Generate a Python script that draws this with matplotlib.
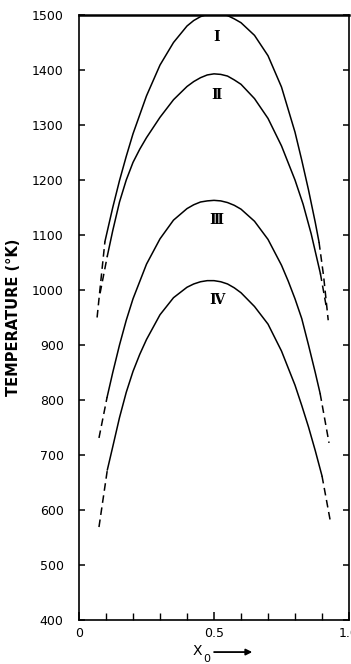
import matplotlib
matplotlib.use("Agg")
import matplotlib.pyplot as plt
from matplotlib.ticker import MultipleLocator

# ---- data ----
x_I = [0.096, 0.11, 0.125, 0.15, 0.175, 0.2, 0.25, 0.3, 0.35, 0.4, 0.425, 0.45, 0.475, 0.5,
       0.525, 0.55, 0.575, 0.6, 0.65, 0.7, 0.75, 0.8, 0.825, 0.85, 0.875, 0.889]
T_I = [1088, 1118, 1150, 1199, 1243, 1284, 1353, 1409, 1450, 1480, 1490, 1497, 1501, 1503,
       1502, 1499, 1493, 1486, 1463, 1426, 1369, 1287, 1236, 1182, 1123, 1087]
dashL_I = ([0.067, 0.082, 0.096], [950, 1022, 1088])
dashR_I = ([0.889, 0.906, 0.923], [1087, 1025, 945])

x_II = [0.105, 0.125, 0.15, 0.175, 0.2, 0.225, 0.25, 0.3, 0.35, 0.4, 0.425, 0.45, 0.475, 0.5,
        0.525, 0.55, 0.575, 0.6, 0.65, 0.7, 0.75, 0.8, 0.83, 0.86, 0.894]
T_II = [1062, 1108, 1160, 1200, 1232, 1256, 1277, 1314, 1346, 1370, 1379, 1386, 1391, 1393,
        1392, 1389, 1382, 1374, 1348, 1312, 1262, 1200, 1156, 1102, 1030]
dashL_II = ([0.078, 0.105], [994, 1062])
dashR_II = ([0.894, 0.915], [1030, 972])

x_III = [0.104, 0.125, 0.15, 0.175, 0.2, 0.25, 0.3, 0.35, 0.4, 0.425, 0.45, 0.475, 0.5,
         0.525, 0.55, 0.575, 0.6, 0.65, 0.7, 0.75, 0.775, 0.8, 0.825, 0.85, 0.875, 0.893]
T_III = [805, 850, 900, 945, 984, 1047, 1093, 1127, 1148, 1155, 1160, 1162, 1163,
         1162, 1159, 1154, 1147, 1125, 1092, 1045, 1016, 984, 948, 900, 850, 812]
dashL_III = ([0.074, 0.104], [731, 805])
dashR_III = ([0.893, 0.926], [812, 722])

x_IV = [0.105, 0.125, 0.15, 0.175, 0.2, 0.225, 0.25, 0.3, 0.35, 0.4, 0.425, 0.45, 0.475, 0.5,
        0.525, 0.55, 0.575, 0.6, 0.65, 0.7, 0.75, 0.8, 0.825, 0.85, 0.875, 0.9]
T_IV = [673, 715, 768, 814, 852, 883, 910, 955, 986, 1005, 1011, 1015, 1017, 1017,
        1015, 1011, 1004, 995, 970, 938, 889, 827, 790, 751, 708, 662]
dashL_IV = ([0.074, 0.105], [569, 673])
dashR_IV = ([0.9, 0.93], [662, 582])

curve_labels = ["Ⅰ", "Ⅱ", "Ⅲ", "Ⅳ"]
label_x = [0.51, 0.51, 0.51, 0.51]
label_T = [1460, 1355, 1127, 982]

xticks = [0, 0.5, 1.0]
xticklabels = ["0", "0.5", "1.0"]
yticks = list(range(400, 1501, 100))

# ---- figure ----
fig = plt.figure(figsize=(3.51, 6.64), dpi=100)
ax = fig.add_axes([79/351, 44/664, 270/351, 605/664])

lw = 1.1
for xs, ts, dl, dr in [(x_I, T_I, dashL_I, dashR_I),
                       (x_II, T_II, dashL_II, dashR_II),
                       (x_III, T_III, dashL_III, dashR_III),
                       (x_IV, T_IV, dashL_IV, dashR_IV)]:
    ax.plot(xs, ts, color="black", lw=lw, solid_joinstyle="round")
    ax.plot(dl[0], dl[1], color="black", lw=lw, dashes=(5, 3))
    ax.plot(dr[0], dr[1], color="black", lw=lw, dashes=(5, 3))

for lab, lx, lt in zip(curve_labels, label_x, label_T):
    ax.text(lx, lt, lab, ha="center", va="center", fontsize=10,
            family=["DejaVu Serif", "DejaVu Sans"], fontweight="bold")

ax.set_xlim(0, 1.0)
ax.set_ylim(400, 1500)
ax.set_xticks(xticks)
ax.set_xticklabels(xticklabels)
ax.xaxis.set_minor_locator(MultipleLocator(0.1))
ax.set_yticks(yticks)

ax.tick_params(axis="y", which="major", direction="in", length=4, width=1.1,
               right=True, labelsize=9, pad=11)
ax.tick_params(axis="x", which="major", direction="in", length=6, width=1.1,
               top=False, labelsize=9, pad=5)
ax.tick_params(axis="x", which="minor", direction="in", length=5, width=1.0, top=False)

for s in ["left", "right", "bottom"]:
    ax.spines[s].set_linewidth(1.2)
ax.spines["top"].set_linewidth(1.8)

ax.set_ylabel("TEMPERATURE (°K)", fontsize=10.5, fontweight="bold", labelpad=8)

# x label with arrow
ax.text(0.437, -0.051, "X", transform=ax.transAxes, fontsize=10, ha="center", va="center")
ax.text(0.472, -0.064, "0", transform=ax.transAxes, fontsize=8, ha="center", va="center")
ax.annotate("", xy=(0.652, -0.053), xytext=(0.49, -0.053), xycoords="axes fraction",
            textcoords="axes fraction",
            arrowprops=dict(arrowstyle="-|>", color="black", lw=1.3, mutation_scale=9),
            annotation_clip=False)

fig.savefig("out.png", dpi=100)
